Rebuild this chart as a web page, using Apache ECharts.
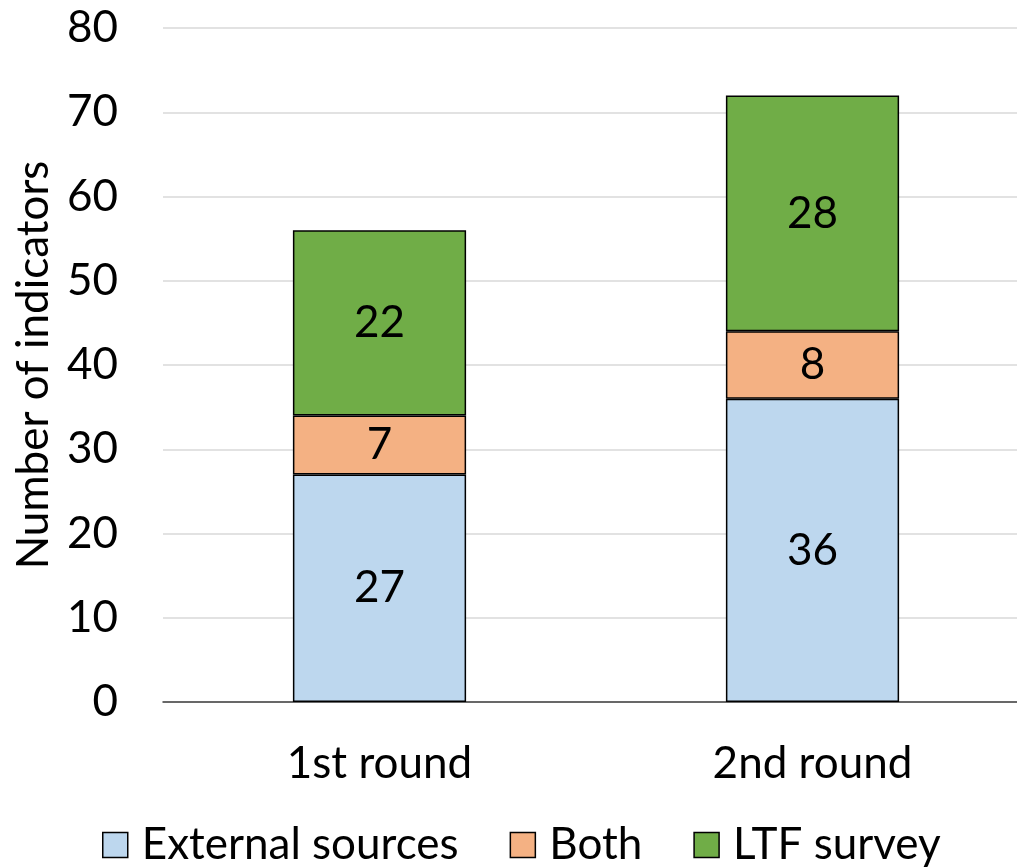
<!DOCTYPE html>
<html>
<head>
<meta charset="utf-8">
<style>
  html, body { margin: 0; padding: 0; background: #ffffff; }
  #chart { width: 1017px; height: 868px; }
</style>
<script src="https://cdn.jsdelivr.net/npm/echarts@6/dist/echarts.min.js"></script>
</head>
<body>
<div id="chart"></div>
<script>
// Rounds on the category axis
const rounds = ['1st round', '2nd round'];
// Indicator counts per data source, stacked per round
const externalSources = [27, 36];
const both = [7, 8];
const ltfSurvey = [22, 28];
const seriesNames = ['External sources', 'Both', 'LTF survey'];
const seriesColors = ['#BDD7EE', '#F4B183', '#70AD47'];

const FONT = 'Lato';
const FONT_SIZE = 44;
const chart = echarts.init(document.getElementById('chart'));

function stackedBar(name, values, color) {
  return {
    name: name,
    type: 'bar',
    stack: 'total',
    data: values,
    barWidth: '40%',
    itemStyle: { color: color, borderColor: '#000000', borderWidth: 1.5 },
    label: {
      show: true,
      position: 'inside',
      color: '#000000',
      fontFamily: FONT,
      fontSize: FONT_SIZE
    }
  };
}

chart.setOption({
  animation: false,
  backgroundColor: '#ffffff',
  grid: { left: 163, right: -12, top: 28, bottom: 166, outerBoundsMode: 'none', containLabel: false },
  legend: {
    bottom: -4,
    left: 97,
    itemWidth: 25,
    itemHeight: 25,
    itemGap: 51,
    icon: 'rect',
    itemStyle: { borderColor: '#000000', borderWidth: 1.5 },
    textStyle: { fontFamily: FONT, fontSize: FONT_SIZE, color: '#000000', padding: [0, 0, 0, 9] },
    data: seriesNames
  },
  xAxis: {
    type: 'category',
    data: rounds,
    axisLine: { lineStyle: { color: '#404040', width: 1.5 } },
    axisTick: { show: false },
    axisLabel: { fontFamily: FONT, fontSize: FONT_SIZE, color: '#000000', margin: 40 }
  },
  yAxis: {
    type: 'value',
    min: 0,
    max: 80,
    interval: 10,
    name: 'Number of indicators',
    nameLocation: 'middle',
    nameGap: 103,
    nameTextStyle: { fontFamily: FONT, fontSize: FONT_SIZE, color: '#000000' },
    axisLine: { show: false },
    axisTick: { show: false },
    splitLine: { lineStyle: { color: '#D9D9D9', width: 1.5 } },
    axisLabel: { fontFamily: FONT, fontSize: FONT_SIZE, color: '#000000', margin: 45 }
  },
  series: [
    stackedBar(seriesNames[0], externalSources, seriesColors[0]),
    stackedBar(seriesNames[1], both, seriesColors[1]),
    stackedBar(seriesNames[2], ltfSurvey, seriesColors[2])
  ]
});
</script>
</body>
</html>
